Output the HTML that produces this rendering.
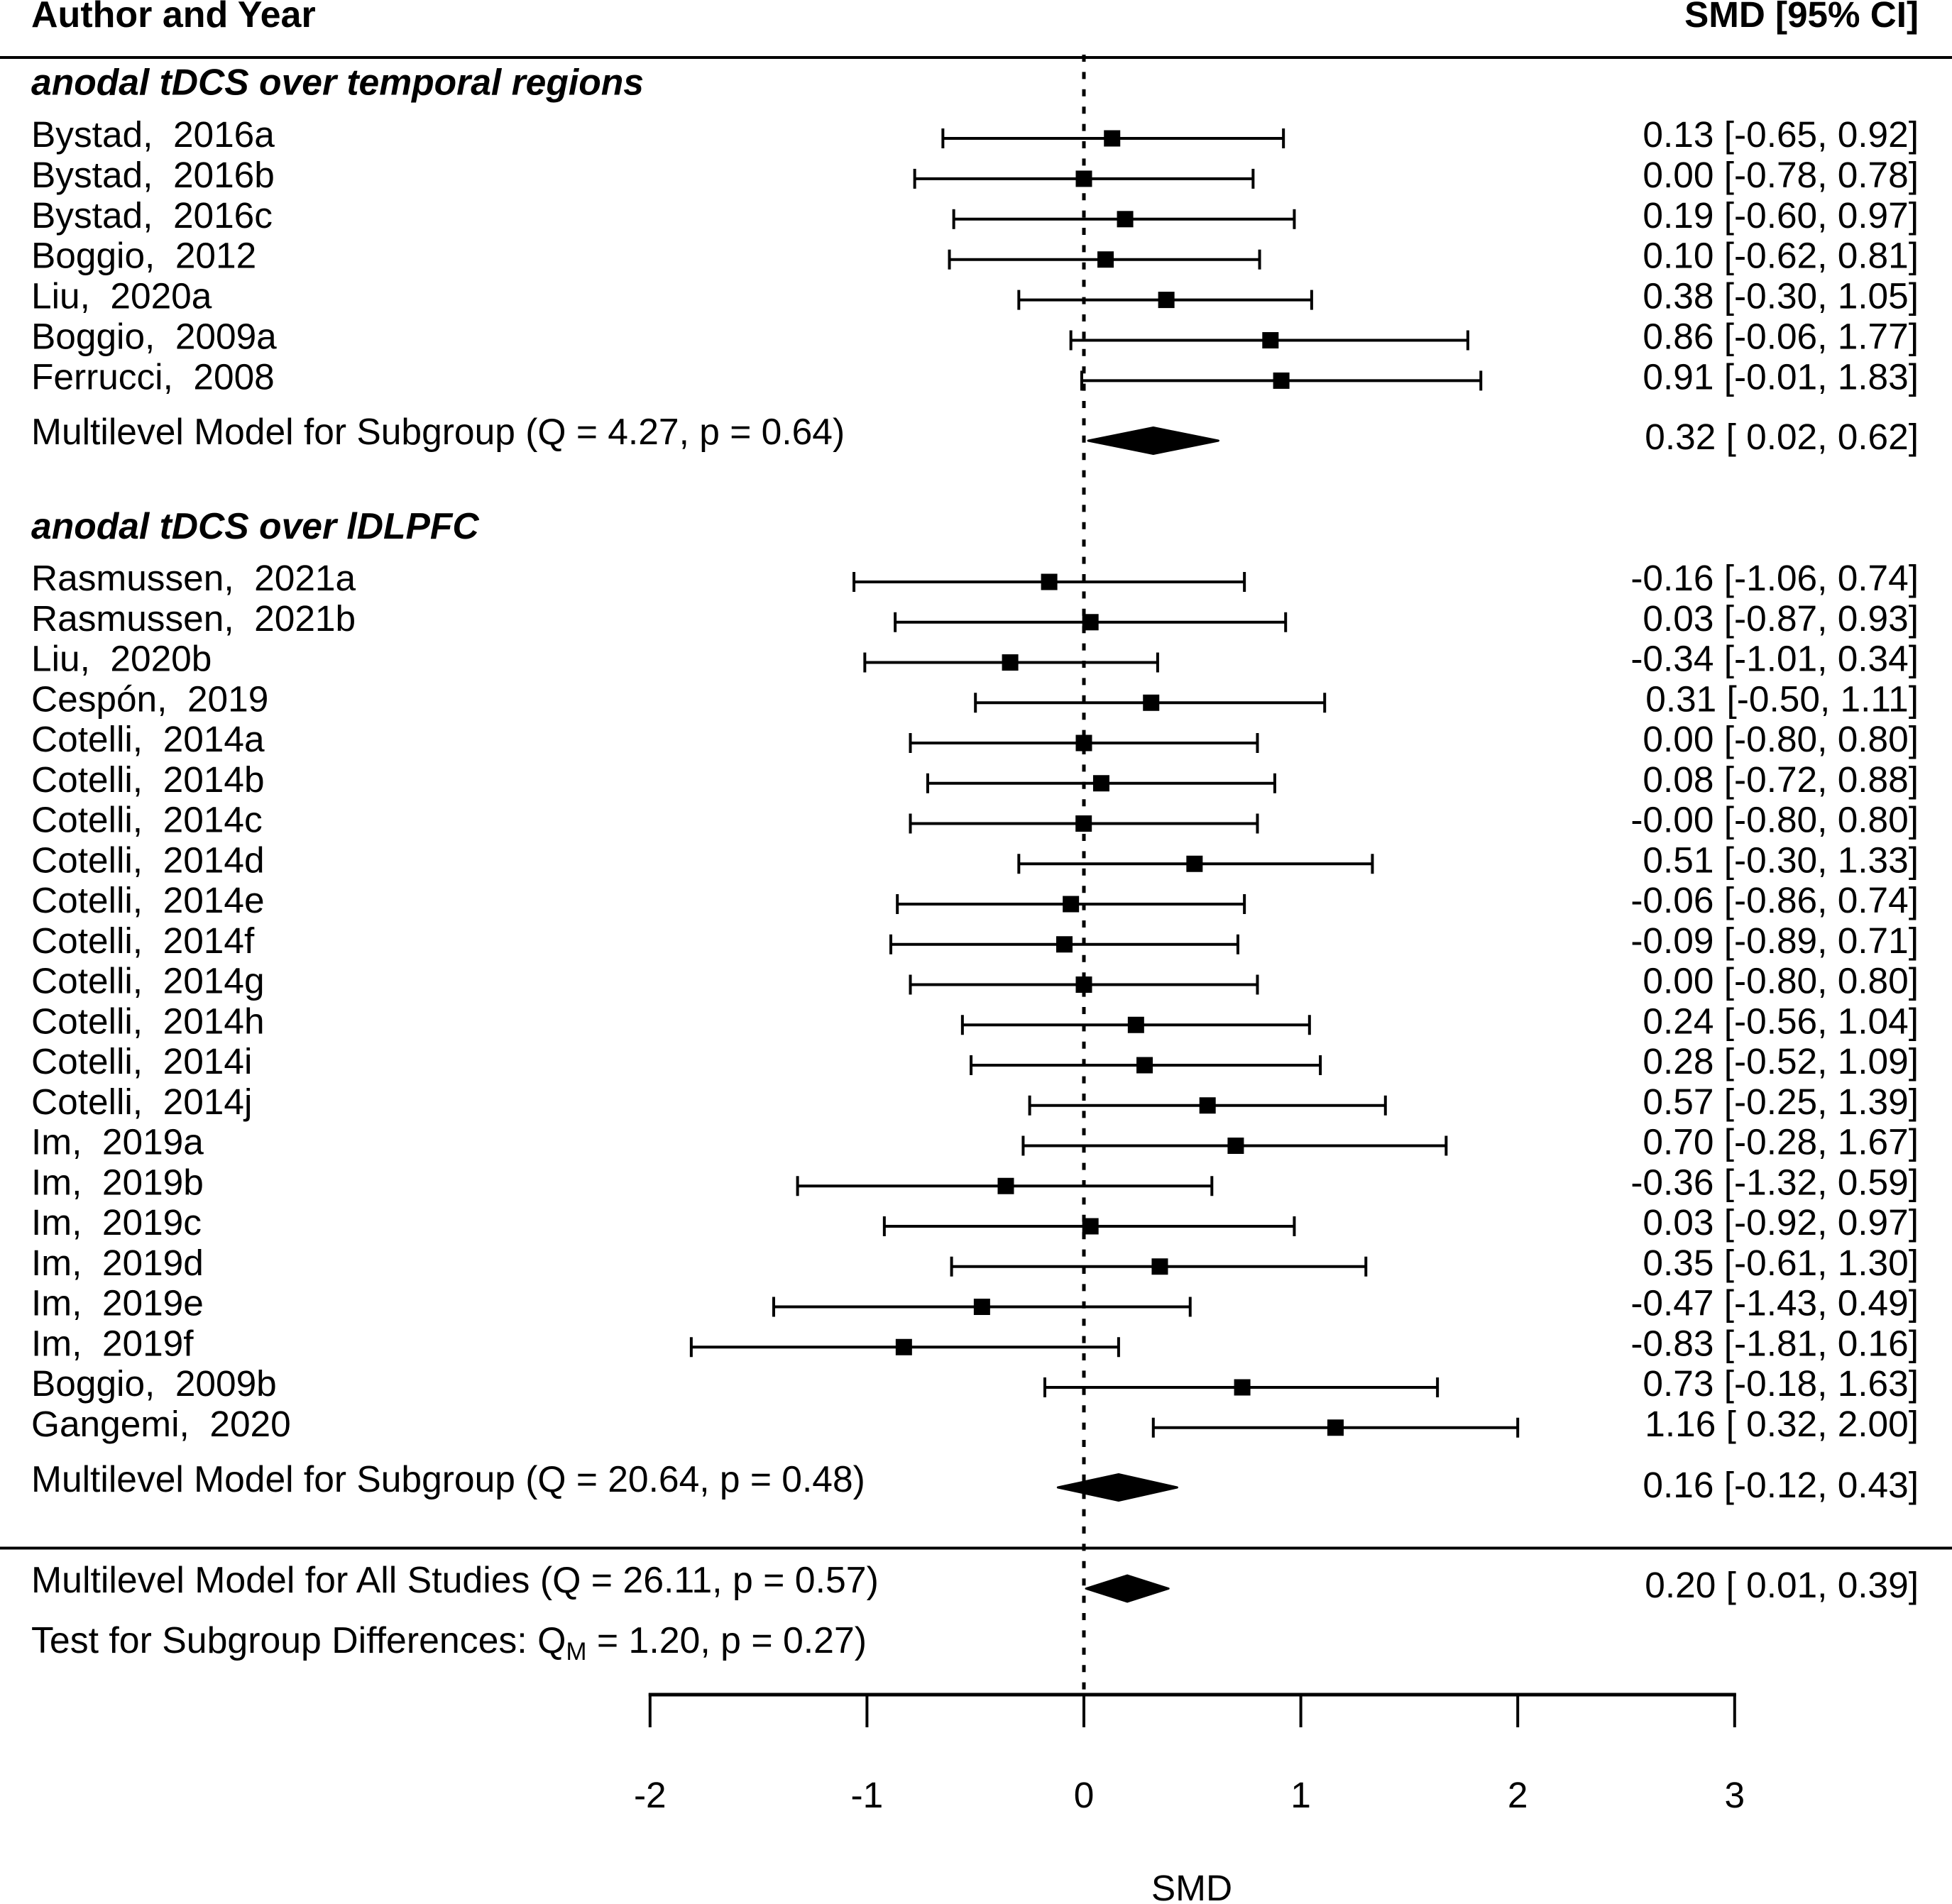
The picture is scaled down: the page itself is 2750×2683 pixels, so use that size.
<!DOCTYPE html>
<html>
<head>
<meta charset="utf-8">
<title>Forest plot of SMD by stimulation site</title>
<style>
  html, body { margin: 0; padding: 0; background: #fff; }
  svg { display: block; }
  text { font-family: "Liberation Sans", Arial, sans-serif; font-size: 51.4px; fill: #000; white-space: pre; }
  .hdr { font-weight: bold; font-size: 52px; }
  .hdr-right { font-weight: bold; font-size: 51.2px; }
  .grp { font-weight: bold; font-style: italic; font-size: 51.6px; }
  .wide { font-size: 51.8px; }
  .sub { font-size: 51.55px; }
</style>
</head>
<body>
<svg id="plot" xmlns="http://www.w3.org/2000/svg" width="2750" height="2683" viewBox="0 0 2750 2683">
  <rect x="0" y="0" width="2750" height="2683" fill="#fff"/>
  <text class="hdr" x="44" y="38">Author and Year</text>
  <text class="hdr-right" x="2703" y="38" text-anchor="end">SMD [95% CI]</text>
  <line x1="0" x2="2750" y1="81" y2="81" stroke="#000" stroke-width="4"/>
  <line x1="0" x2="2750" y1="2181.5" y2="2181.5" stroke="#000" stroke-width="4"/>
  <text class="grp" x="44" y="133.5">anodal tDCS over temporal regions</text>
  <text class="grp" x="44" y="759">anodal tDCS over lDLPFC</text>
  <text class="sub" x="44" y="626">Multilevel Model for Subgroup (Q = 4.27, p = 0.64)</text>
  <text class="sub" x="44" y="2102">Multilevel Model for Subgroup (Q = 20.64, p = 0.48)</text>
  <text class="wide" x="44" y="2244">Multilevel Model for All Studies (Q = 26.11, p = 0.57)</text>
  <text class="wide" x="44" y="2329">Test for Subgroup Differences: Q<tspan dy="10" font-size="35">M</tspan><tspan dy="-10"> = 1.20, p = 0.27)</tspan></text>
  <text x="1679" y="2678" text-anchor="middle">SMD</text>
  <g id="marks"></g>
</svg>
<script>
var temporalLabels = ["Bystad,  2016a","Bystad,  2016b","Bystad,  2016c","Boggio,  2012","Liu,  2020a","Boggio,  2009a","Ferrucci,  2008"];
var temporalEst = [0.13,0.00,0.19,0.10,0.38,0.86,0.91];
var temporalLow = [-0.65,-0.78,-0.60,-0.62,-0.30,-0.06,-0.01];
var temporalHigh = [0.92,0.78,0.97,0.81,1.05,1.77,1.83];

var dlpfcLabels = ["Rasmussen,  2021a","Rasmussen,  2021b","Liu,  2020b","Cespón,  2019","Cotelli,  2014a","Cotelli,  2014b","Cotelli,  2014c","Cotelli,  2014d","Cotelli,  2014e","Cotelli,  2014f","Cotelli,  2014g","Cotelli,  2014h","Cotelli,  2014i","Cotelli,  2014j","Im,  2019a","Im,  2019b","Im,  2019c","Im,  2019d","Im,  2019e","Im,  2019f","Boggio,  2009b","Gangemi,  2020"];
var dlpfcEst = [-0.16,0.03,-0.34,0.31,0.00,0.08,-0.001,0.51,-0.06,-0.09,0.00,0.24,0.28,0.57,0.70,-0.36,0.03,0.35,-0.47,-0.83,0.73,1.16];
var dlpfcLow = [-1.06,-0.87,-1.01,-0.50,-0.80,-0.72,-0.80,-0.30,-0.86,-0.89,-0.80,-0.56,-0.52,-0.25,-0.28,-1.32,-0.92,-0.61,-1.43,-1.81,-0.18,0.32];
var dlpfcHigh = [0.74,0.93,0.34,1.11,0.80,0.88,0.80,1.33,0.74,0.71,0.80,1.04,1.09,1.39,1.67,0.59,0.97,1.30,0.49,0.16,1.63,2.00];

var summaryNames = ["temporal-summary","dlpfc-summary","all-studies-summary"];
var summaryEst = [0.32,0.16,0.20];
var summaryLow = [0.02,-0.12,0.01];
var summaryHigh = [0.62,0.43,0.39];

var axisTicks = [-2,-1,0,1,2,3];

var NS = "http://www.w3.org/2000/svg";
var root = document.getElementById("marks");

function xScale(v) { return 1527 + v * 305.6; }
function temporalY(i) { return 195 + i * 56.9; }
function dlpfcY(i) { return 820 + i * 56.75; }
function summaryY(i) { return i === 0 ? 621 : (i === 1 ? 2096 : 2238.5); }
function summaryTextY(i) { return i === 0 ? 633 : (i === 1 ? 2110 : 2251); }

function make(tag, attrs, text) {
  var el = document.createElementNS(NS, tag);
  for (var k in attrs) { el.setAttribute(k, attrs[k]); }
  if (text !== undefined) { el.textContent = text; }
  root.appendChild(el);
  return el;
}
function ciText(e, l, h) {
  return e.toFixed(2) + " [" + (l < 0 ? "" : " ") + l.toFixed(2) + ", " + h.toFixed(2) + "]";
}
function slug(s) {
  return s.toLowerCase().replace(/[^a-z0-9]+/g, "-");
}

var refLine = make("line", {x1: xScale(0), x2: xScale(0), y1: 77, y2: 2388, stroke: "#000", "stroke-width": 5, "stroke-dasharray": "10 14.4"});



function drawRows(labels, est, low, high, yFn) {
  for (var i = 0; i < labels.length; i++) {
    var y = yFn(i);
    var id = slug(labels[i]);
    var label = make("text", {x: 44, y: y + 12}, labels[i]);
    
    
    var value = make("text", {x: 2703, y: y + 12, "text-anchor": "end"}, ciText(est[i], low[i], high[i]));
    
    
    var ci = make("line", {x1: xScale(low[i]), x2: xScale(high[i]), y1: y, y2: y, stroke: "#000", "stroke-width": 4});
    
    
    var capL = make("line", {x1: xScale(low[i]), x2: xScale(low[i]), y1: y - 14, y2: y + 14, stroke: "#000", "stroke-width": 4});
    
    
    var capH = make("line", {x1: xScale(high[i]), x2: xScale(high[i]), y1: y - 14, y2: y + 14, stroke: "#000", "stroke-width": 4});
    
    
    var pt = make("rect", {x: xScale(est[i]) - 11.5, y: y - 11.5, width: 23, height: 23, fill: "#000"});
    
    
  }
}
drawRows(temporalLabels, temporalEst, temporalLow, temporalHigh, temporalY);
drawRows(dlpfcLabels, dlpfcEst, dlpfcLow, dlpfcHigh, dlpfcY);

for (var s = 0; s < summaryNames.length; s++) {
  var sy = summaryY(s);
  var pts = [[xScale(summaryLow[s]), sy], [xScale(summaryEst[s]), sy - 18.5], [xScale(summaryHigh[s]), sy], [xScale(summaryEst[s]), sy + 18.5]];
  var dia = make("polygon", {points: pts.map(function (p) { return p.join(","); }).join(" "), fill: "#000", stroke: "#000", "stroke-width": 3, "stroke-linejoin": "round"});
  
  
  var st = make("text", {x: 2703, y: summaryTextY(s), "text-anchor": "end"}, ciText(summaryEst[s], summaryLow[s], summaryHigh[s]));
  
  
}

var axisLine = make("line", {x1: xScale(axisTicks[0]) - 2, x2: xScale(axisTicks[axisTicks.length - 1]) + 2, y1: 2388, y2: 2388, stroke: "#000", "stroke-width": 5});


for (var t = 0; t < axisTicks.length; t++) {
  var tick = make("line", {x1: xScale(axisTicks[t]), x2: xScale(axisTicks[t]), y1: 2386, y2: 2434, stroke: "#000", "stroke-width": 4});
  
  
  var tl = make("text", {x: xScale(axisTicks[t]), y: 2547, "text-anchor": "middle"}, String(axisTicks[t]));
  
  
}
</script>
</body>
</html>
